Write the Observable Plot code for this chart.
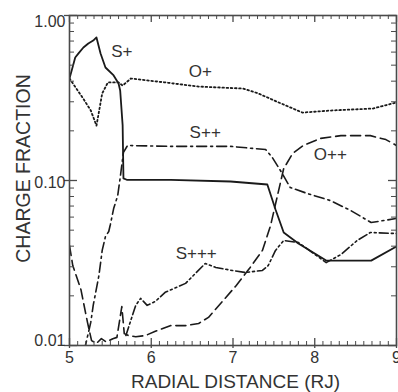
<!DOCTYPE html>
<html><head><meta charset="utf-8">
<script src="https://cdn.jsdelivr.net/npm/d3@7"></script>
<script src="https://cdn.jsdelivr.net/npm/@observablehq/plot@0.6"></script>
<style>body{margin:0;background:#fff;}</style>
</head><body><div id="chart"></div>
<script>
// Radial distance (RJ) and charge fraction for each ion
const sPlusX = [5.00,5.07,5.11,5.17,5.23,5.29,5.33,5.38,5.44,5.54,5.60,5.62,5.65,5.66,5.70,6.24,6.97,7.42,7.52,7.62,7.80,8.14,8.69,9.00];
const sPlusY = [0.415,0.556,0.589,0.640,0.677,0.705,0.736,0.589,0.484,0.433,0.387,0.351,0.216,0.103,0.101,0.101,0.0986,0.0946,0.0667,0.0484,0.0415,0.0327,0.0327,0.0398];

const oPlusX = [5.00,5.16,5.26,5.33,5.40,5.47,5.60,5.65,5.75,6.17,6.58,7.12,7.31,7.56,7.85,8.22,8.71,9.00];
const oPlusY = [0.415,0.318,0.266,0.215,0.337,0.393,0.393,0.376,0.415,0.393,0.371,0.361,0.337,0.297,0.258,0.266,0.273,0.297];

const s2PlusX = [5.18,5.26,5.29,5.36,5.40,5.44,5.48,5.50,5.54,5.59,5.62,5.66,5.71,6.24,6.97,7.40,7.48,7.58,7.70,7.91,8.19,8.44,8.69,9.00];
const s2PlusY = [0.0093,0.0138,0.0175,0.0266,0.0377,0.0458,0.0491,0.0541,0.0676,0.0811,0.104,0.148,0.163,0.161,0.161,0.154,0.138,0.115,0.0907,0.0834,0.0756,0.0658,0.0556,0.0589];

const o2PlusX = [5.00,5.04,5.14,5.22,5.27,5.33,5.39,5.45,5.53,5.58,5.64,5.67,5.72,5.81,5.93,6.05,6.24,6.42,6.58,6.70,6.87,7.04,7.21,7.36,7.46,7.53,7.62,7.73,7.86,8.07,8.32,8.68,8.87,9.00];
const o2PlusY = [0.0403,0.0305,0.0218,0.0138,0.0107,0.0103,0.0110,0.0105,0.0110,0.0112,0.0172,0.0118,0.0115,0.0113,0.0115,0.0122,0.0132,0.0132,0.0136,0.0148,0.0185,0.0231,0.0297,0.0377,0.0534,0.0756,0.118,0.146,0.163,0.180,0.187,0.187,0.177,0.163];

const s3PlusX = [5.69,5.75,5.81,5.87,5.95,6.05,6.17,6.42,6.66,6.79,6.99,7.15,7.36,7.43,7.52,7.62,7.80,7.97,8.14,8.32,8.52,8.68,9.00];
const s3PlusY = [0.0115,0.0142,0.0175,0.0193,0.0175,0.0185,0.0210,0.0238,0.0314,0.0297,0.0285,0.0277,0.0285,0.0305,0.0377,0.0433,0.0421,0.0366,0.0318,0.0356,0.0433,0.0484,0.0477];

// Curve labels
const labelNames = ["S+","O+","S++","O++","S+++"];
const labelX = [5.64,6.60,6.66,8.19,6.55];
const labelY = [0.605,0.458,0.195,0.144,0.0361];

// Axis ticks
const xMajor = [5,6,7,8,9];
const xMinor = d3.range(50,91).filter(d => d % 10 !== 0).map(d => d/10);
const yMajor = [0.01,0.1,1];
const yMinor = d3.range(2,10).flatMap(k => [k*0.01, k*0.1]);
const yTickLabels = ["0.01","0.10","1.00"];

const W = 398, H = 392, ML = 69, MR = 2, MT = 15, MB = 47;
const FW = W - ML - MR, FH = H - MT - MB;

const toRows = (xs, ys) => xs.map((x,i) => ({x, y: ys[i]}));
const lineCol = "#1a1a1a";
const axCol = "#4a4a4a";
const txtCol = "#333";

const series = [
  {rows: toRows(sPlusX, sPlusY), dash: null, w: 1.8},
  {rows: toRows(oPlusX, oPlusY), dash: "1.6,2.6", w: 1.8},
  {rows: toRows(s2PlusX, s2PlusY), dash: "10,4,2,4", w: 1.6},
  {rows: toRows(o2PlusX, o2PlusY), dash: "10,5", w: 1.6},
  {rows: toRows(s3PlusX, s3PlusY), dash: "9,3,2,3,2,3", w: 1.6}
];

const labels = labelNames.map((t,i) => ({t, x: labelX[i], y: labelY[i]}));

const chart = Plot.plot({
  width: W, height: H,
  marginLeft: ML, marginRight: MR, marginTop: MT, marginBottom: MB,
  style: {fontFamily: "'Liberation Sans', Arial, sans-serif", background: "#fff"},
  x: {domain: [5,9], axis: null},
  y: {type: "log", domain: [0.01,1], axis: null},
  marks: [
    ...series.map(s => Plot.line(s.rows, {x: "x", y: "y", stroke: lineCol, strokeWidth: s.w, strokeDasharray: s.dash, clip: true})),
    // y ticks left & right
    Plot.tickY(yMinor, {y: d => d, insetRight: FW - 5, stroke: axCol}),
    Plot.tickY(yMinor, {y: d => d, insetLeft: FW - 5, stroke: axCol}),
    Plot.tickY(yMajor, {y: d => d, insetLeft: -5, insetRight: FW - 8, stroke: axCol, strokeWidth: 1.3}),
    Plot.tickY(yMajor, {y: d => d, insetLeft: FW - 8, stroke: axCol, strokeWidth: 1.3}),
    // x ticks bottom & top
    Plot.tickX(xMinor, {x: d => d, insetTop: FH - 4, stroke: axCol}),
    Plot.tickX(xMinor, {x: d => d, insetBottom: FH - 4, stroke: axCol}),
    Plot.tickX(xMajor, {x: d => d, insetTop: FH - 7, insetBottom: -3, stroke: axCol, strokeWidth: 1.3}),
    Plot.tickX(xMajor, {x: d => d, insetBottom: FH - 7, stroke: axCol, strokeWidth: 1.3}),
    Plot.frame({stroke: axCol, strokeWidth: 1.6}),
    // y tick labels
    Plot.text([yMajor[2]], {y: d => d, text: () => yTickLabels[2], frameAnchor: "left", dx: -4, textAnchor: "end", lineAnchor: "top", fontSize: 16, fill: txtCol}),
    Plot.text([yMajor[1]], {y: d => d, text: () => yTickLabels[1], frameAnchor: "left", dx: -4, dy: 2, textAnchor: "end", lineAnchor: "middle", fontSize: 16, fill: txtCol}),
    Plot.text([yMajor[0]], {y: d => d, text: () => yTickLabels[0], frameAnchor: "left", dx: -4, textAnchor: "end", lineAnchor: "bottom", fontSize: 16, fill: txtCol}),
    // x tick labels
    Plot.text(xMajor, {x: d => d, text: d => String(d), frameAnchor: "bottom", dy: 12, lineAnchor: "middle", fontSize: 16, fill: txtCol}),
    // axis titles
    Plot.text(["RADIAL DISTANCE (RJ)"], {text: d => d, frameAnchor: "bottom", textAnchor: "middle", dx: 2.5, dy: 36.5, lineAnchor: "middle", fontSize: 19, fill: txtCol}),
    Plot.text(["CHARGE FRACTION"], {text: d => d, frameAnchor: "left", textAnchor: "middle", rotate: -90, dx: -46, dy: -12, lineAnchor: "middle", fontSize: 19.5, fill: txtCol}),
    // curve labels
    Plot.text(labels, {x: "x", y: "y", text: "t", fontSize: 17, fill: txtCol, lineAnchor: "middle"})
  ]
});
document.getElementById("chart").appendChild(chart);
</script>
</body></html>
